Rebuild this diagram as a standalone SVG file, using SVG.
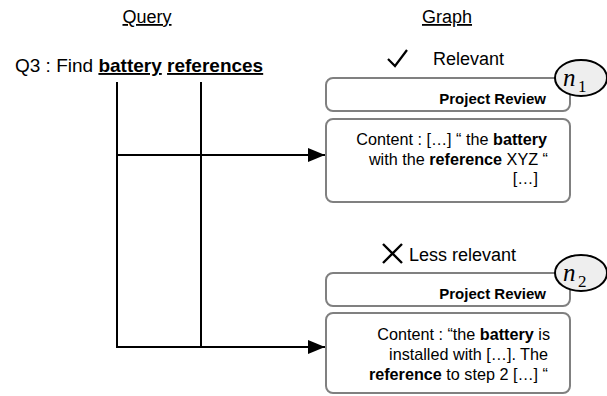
<svg xmlns="http://www.w3.org/2000/svg" width="607" height="396" viewBox="0 0 607 396">
<style>
text{font-family:"Liberation Sans",Arial,sans-serif;fill:#000}
.title{font-size:18px;text-anchor:middle;text-decoration:underline}
.q{font-size:19px}
.b{font-weight:bold}
.box{fill:#fff;stroke:#808080;stroke-width:2}
.hdr{font-size:15px;font-weight:bold;text-anchor:end}
.ct{font-size:16.2px;text-anchor:end}
.lbl{font-size:18px}
.ell{fill:#eeeeee;stroke:#000;stroke-width:2}
.mi{font-family:"Liberation Serif","Times New Roman",serif;font-style:italic;font-size:25px}
.ms{font-family:"Liberation Serif","Times New Roman",serif;font-size:17px}
.ln{stroke:#000;stroke-width:2;fill:none}
</style>
<defs>
<marker id="arr" markerUnits="userSpaceOnUse" markerWidth="18" markerHeight="14" refX="17" refY="7" orient="auto">
<path d="M0,0 L17,7 L0,14 Z" fill="#000"/>
</marker>
</defs>

<text class="title" x="147" y="23">Query</text>
<text class="title" x="447" y="23">Graph</text>

<g id="query">
<text class="q" x="15" y="72">Q3 : Find <tspan class="b" text-decoration="underline">battery</tspan> <tspan class="b" text-decoration="underline">references</tspan></text>
</g>

<g id="connectors">
<line class="ln" x1="117" y1="82" x2="117" y2="348"/>
<line class="ln" x1="201" y1="82" x2="201" y2="348"/>
<line class="ln" x1="116" y1="155" x2="325" y2="155" marker-end="url(#arr)"/>
<line class="ln" x1="116" y1="347" x2="325" y2="347" marker-end="url(#arr)"/>
</g>

<g id="relevant-label">
<path d="M388,59 L395,66 L407,50" fill="none" stroke="#000" stroke-width="2.2"/>
<text class="lbl" x="433" y="65">Relevant</text>
</g>

<g id="n1-header">
<rect class="box" x="326" y="78" width="244" height="33" rx="7"/>
<text class="hdr" x="546" y="104">Project Review</text>
</g>
<g id="n1-badge">
<ellipse class="ell" cx="581" cy="78" rx="26" ry="18"/>
<text class="mi" x="563" y="86">n</text><text class="ms" x="578" y="92">1</text>
</g>
<g id="n1-content">
<rect class="box" x="326" y="119" width="244" height="83" rx="7"/>
<text class="ct" x="547" y="145">Content : […] “ the <tspan class="b">battery</tspan></text>
<text class="ct" x="548" y="165">with the <tspan class="b">reference</tspan> XYZ “</text>
<text class="ct" x="538" y="184">[…]</text>
</g>

<g id="less-relevant-label">
<path d="M383,244 L402,263 M402,244 L383,263" fill="none" stroke="#000" stroke-width="2.4"/>
<text class="lbl" x="409" y="261">Less relevant</text>
</g>

<g id="n2-header">
<rect class="box" x="326" y="273" width="244" height="33" rx="7"/>
<text class="hdr" x="546" y="299">Project Review</text>
</g>
<g id="n2-badge">
<ellipse class="ell" cx="581" cy="273" rx="26" ry="18"/>
<text class="mi" x="563" y="281">n</text><text class="ms" x="578" y="287">2</text>
</g>
<g id="n2-content">
<rect class="box" x="326" y="313" width="244" height="80" rx="7"/>
<text class="ct" x="550" y="340">Content : “the <tspan class="b">battery</tspan> is</text>
<text class="ct" x="548" y="360">installed with […]. The</text>
<text class="ct" x="548" y="380"><tspan class="b">reference</tspan> to step 2 […] “</text>
</g>
</svg>
